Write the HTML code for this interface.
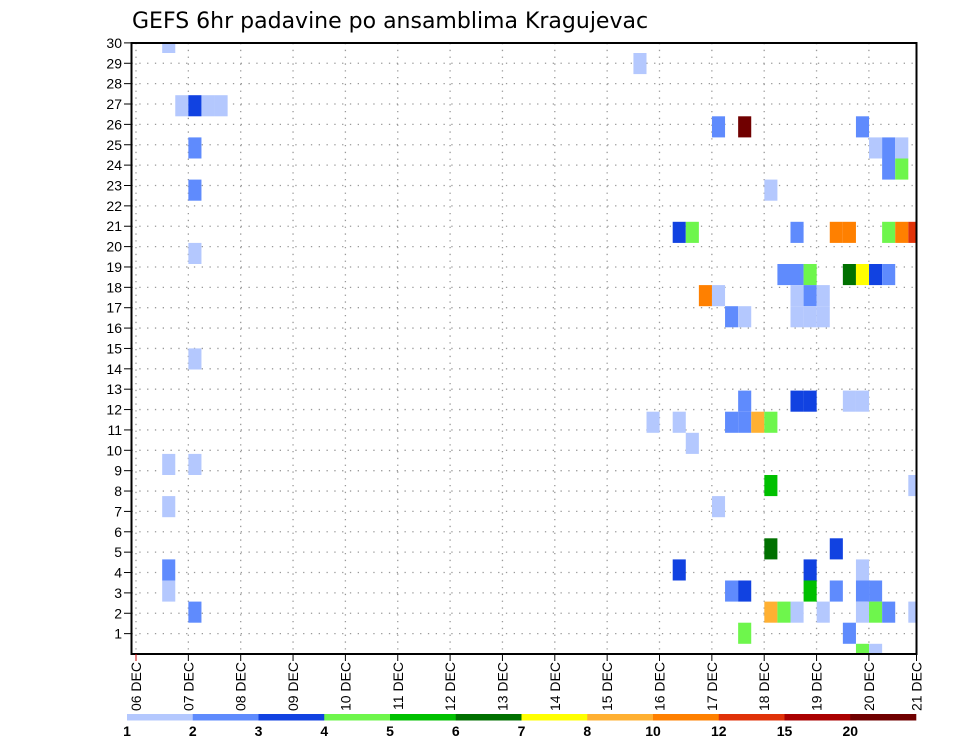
<!DOCTYPE html>
<html><head><meta charset="utf-8"><style>
body{margin:0;background:#fff;width:960px;height:742px;overflow:hidden;font-family:"Liberation Sans","DejaVu Sans",sans-serif}
</style></head><body>
<svg id="chart" width="960" height="742" xmlns="http://www.w3.org/2000/svg">
<text x="132" y="28" font-size="22" font-family="DejaVu Sans, Liberation Sans, sans-serif" fill="#000">GEFS 6hr padavine po ansamblima Kragujevac</text>
<g id="grid"></g><g id="cells"></g><g id="axes"></g><g id="legend"></g>
</svg>
<script>
// data: time step index (6h from 06 DEC 00Z), ensemble member band, colour level
const cellStep  = [2, 3,4,5,6, 4, 4, 4, 4, 2,4, 2, 2,2, 4, 38, 44,46,55, 56,57,58, 57,58, 48, 41,42,50,53,54,57,58,59, 49,50,51,54,55,56,57, 43,44,50,51,52, 45,46,50,51,52, 46,50,51,54,55, 39,41,45,46,47,48, 42, 48,59, 44, 48,53, 41,51,55, 45,46,51,53,55,56, 48,49,50,52,55,56,57,59, 46,54, 55,56];
const cellMember= [29,26,26,26,26,24,22,19,14,9,9, 7, 4,3, 2, 28, 25,25,25, 24,24,24, 23,23, 22, 20,20,20,20,20,20,20,20, 18,18,18,18,18,18,18, 17,17,17,17,17, 16,16,16,16,16, 12,12,12,12,12, 11,11,11,11,11,11, 10, 8,8, 7, 5,5, 4,4,4, 3,3,3,3,3,3, 2,2,2,2,2,2,2,2, 1,1, 0,0];
const cellLevel = [0, 0,2,0,0, 1, 1, 0, 0, 0,0, 0, 1,0, 1, 0, 1,11,1, 0,1,0, 1,3, 0, 2,3,1,8,8,3,8,9, 1,1,3,5,6,2,1, 8,0,0,1,0, 1,0,0,0,0, 1,2,2,0,0, 0,0,1,1,7,3, 0, 4,0, 0, 5,2, 2,2,0, 1,2,4,1,1,1, 7,3,0,0,0,3,1,0, 3,1, 3,0];
const levelColors = ["#b4c8fe","#5f8bfd","#1142e1","#6ef64c","#00c000","#007000","#ffff00","#ffb032","#ff8000","#e03208","#aa0000","#700000"];
const legendLabels = ["1","2","3","4","5","6","7","8","10","12","15","20"];
const dayLabels = ["06","07","08","09","10","11","12","13","14","15","16","17","18","19","20","21"];
const memberTicks = [1,2,3,4,5,6,7,8,9,10,11,12,13,14,15,16,17,18,19,20,21,22,23,24,25,26,27,28,29,30];
</script>
<script>
const NS="http://www.w3.org/2000/svg";
const L=131.5,R=916.5,T=43,B=654;
const xDay=d=>136+52.35*d;
const xStep=i=>136+13.09*i;
const yTick=r=>654-20.37*r;
const cellTop=c=>664.9-21.1*(c+1);
function mk(tag,attrs,parent){const e=document.createElementNS(NS,tag);for(const k in attrs)e.setAttribute(k,attrs[k]);parent.appendChild(e);return e;}
const grid=document.getElementById('grid'),cells=document.getElementById('cells'),axes=document.getElementById('axes'),leg=document.getElementById('legend');
memberTicks.forEach(r=>{const l=mk('line',{x1:L,x2:R,y1:yTick(r),y2:yTick(r),stroke:'#999','stroke-width':1.3,'stroke-dasharray':'1.3 6.5'},grid);

});
dayLabels.forEach((d,k)=>{const x=xDay(k);if(x>R)return;const l=mk('line',{x1:x,x2:x,y1:T,y2:B,stroke:'#999','stroke-width':1.3,'stroke-dasharray':'1.3 5.5'},grid);

});
const clip=mk('clipPath',{id:'pc'},document.getElementById('chart'));mk('rect',{x:L,y:T,width:R-L,height:B-T},clip);
cells.setAttribute('clip-path','url(#pc)');
cellStep.forEach((s,k)=>{const r=mk('rect',{x:xStep(s),y:cellTop(cellMember[k]),width:13.09,height:21.1,fill:levelColors[cellLevel[k]]},cells);

});
const fr=mk('rect',{x:L,y:T,width:R-L,height:B-T,fill:'none',stroke:'#000','stroke-width':2},axes);


memberTicks.forEach(r=>{const y=yTick(r);mk('line',{x1:124,x2:L,y1:y,y2:y,stroke:'#000','stroke-width':1},axes);
const t=mk('text',{x:122,y:y+5,'text-anchor':'end','font-size':14,fill:'#000'},axes);t.textContent=r;

});
dayLabels.forEach((d,k)=>{const x=Math.min(xDay(k),R);mk('line',{x1:x,x2:x,y1:B,y2:B+7,stroke:k==0?'#c00':'#000','stroke-width':1},axes);
const t=mk('text',{transform:`translate(${x+5},${B+8}) rotate(-90)`,'text-anchor':'end','font-size':14,fill:'#000'},axes);t.textContent=d+' DEC';

});
const lw=(916-127)/levelColors.length;
levelColors.forEach((c,k)=>{const r=mk('rect',{x:127+k*lw,y:714,width:lw+0.3,height:6.5,fill:c},leg);


const t=mk('text',{x:127+k*lw,y:736,'text-anchor':'middle','font-size':14,'font-weight':'bold',fill:'#000'},leg);t.textContent=legendLabels[k];

});
</script>
</body></html>
